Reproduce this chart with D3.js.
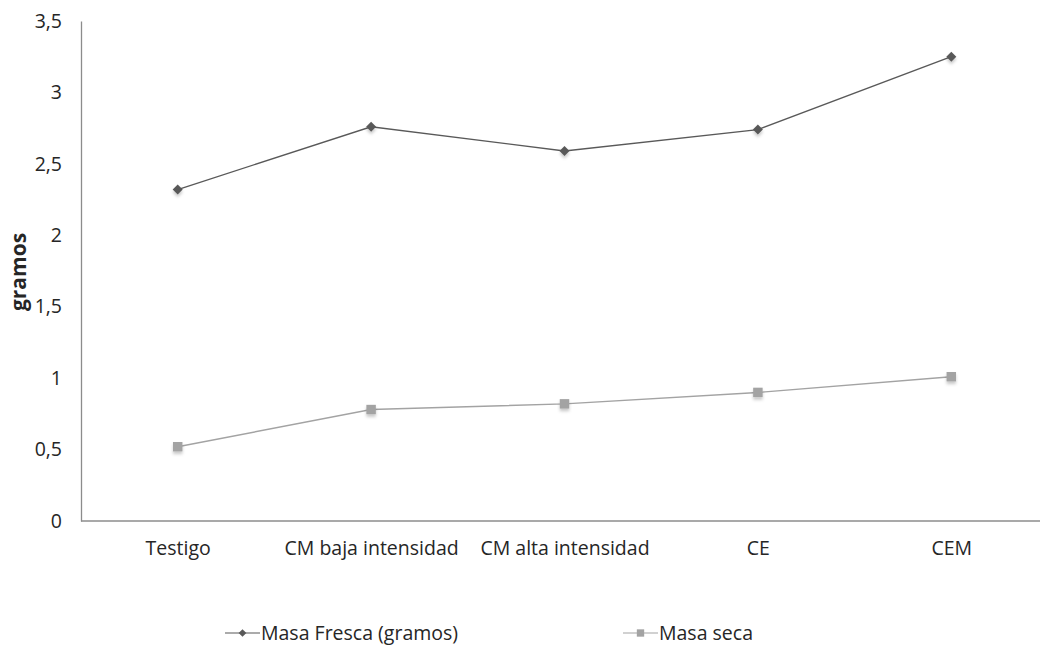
<!DOCTYPE html>
<html>
<head>
<meta charset="utf-8">
<script src="https://cdn.jsdelivr.net/npm/d3@7"></script>
<style>
  html, body { margin: 0; padding: 0; background: #fff; }
  svg { display: block; }
  text { font-family: "Open Sans", "Noto Sans", sans-serif; fill: #262626; }
</style>
</head>
<body>
<svg id="chart" width="1040" height="645"></svg>
<script>
// Treatments on the x axis
const categories = ["Testigo", "CM baja intensidad", "CM alta intensidad", "CE", "CEM"];
// Fresh mass (g) per treatment
const masaFresca = [2.32, 2.76, 2.59, 2.74, 3.25];
// Dry mass (g) per treatment
const masaSeca = [0.52, 0.78, 0.82, 0.90, 1.01];
// Y axis ticks and their labels
const yTicks = [0, 0.5, 1, 1.5, 2, 2.5, 3, 3.5];
const yTickLabels = ["0", "0,5", "1", "1,5", "2", "2,5", "3", "3,5"];
const seriesNames = ["Masa Fresca (gramos)", "Masa seca"];

const svg = d3.select("#chart");
const plotLeft = 81, plotRight = 1048, plotTop = 21, plotBottom = 521;

const x = d3.scalePoint().domain(categories).range([plotLeft, plotRight]).padding(0.5);
const y = d3.scaleLinear().domain([0, 3.5]).range([plotBottom, plotTop]);

// soft drop shadow under markers
const defs = svg.append("defs");
const f = defs.append("filter").attr("id", "shadow")
  .attr("x", "-100%").attr("y", "-100%").attr("width", "300%").attr("height", "300%");
f.append("feDropShadow").attr("dx", 0).attr("dy", 2.5).attr("stdDeviation", 1.6)
  .attr("flood-color", "#000").attr("flood-opacity", 0.22);

// Y axis
const yAxis = d3.axisLeft(y).tickValues(yTicks)
  .tickFormat((d, i) => yTickLabels[i]).tickSize(0).tickPadding(19);
const gy = svg.append("g").attr("transform", `translate(${plotLeft},0)`).call(yAxis);
gy.select(".domain").attr("stroke", "#8c8c8c").attr("stroke-width", 1.3);
gy.selectAll("text").style("font-size", "19.5px").attr("fill", "#262626")
  .style("font-family", "'Open Sans', sans-serif");

// X axis
const xAxis = d3.axisBottom(x).tickSize(0).tickPadding(20);
const gx = svg.append("g").attr("transform", `translate(0,${plotBottom})`).call(xAxis);
gx.select(".domain").attr("d", `M${plotLeft},0H1040`).attr("stroke", "#8c8c8c").attr("stroke-width", 1.3);
gx.selectAll("text").style("font-size", "19.5px").attr("fill", "#262626")
  .style("font-family", "'Open Sans', sans-serif");

// Y axis title
svg.append("text")
  .attr("transform", `translate(26,272) rotate(-90)`)
  .attr("text-anchor", "middle")
  .style("font-size", "21px").style("font-weight", "bold")
  .text("gramos");

// diamond = square rotated 45°
const diamondSym = { draw(ctx, size) { const r = Math.sqrt(size) / 2 * Math.SQRT2;
  ctx.moveTo(0, -r); ctx.lineTo(r, 0); ctx.lineTo(0, r); ctx.lineTo(-r, 0); ctx.closePath(); } };

const series = [
  { name: seriesNames[0], values: masaFresca, color: "#595959", lineW: 1.4, shape: diamondSym, size: 50 },
  { name: seriesNames[1], values: masaSeca, color: "#a3a3a3", lineW: 1.4, shape: d3.symbolSquare, size: 90 }
];

const line = d3.line().x((d, i) => x(categories[i])).y(d => y(d));

series.forEach(s => {
  svg.append("path").datum(s.values)
    .attr("d", line).attr("fill", "none")
    .attr("stroke", s.color).attr("stroke-width", s.lineW);
  svg.append("g").selectAll("path").data(s.values).join("path")
    .attr("transform", (d, i) => `translate(${x(categories[i])},${y(d)})`)
    .attr("d", d3.symbol().type(s.shape).size(s.size))
    .attr("fill", s.color)
    .attr("filter", "url(#shadow)");
});

// Legend
const legendItems = [
  { s: series[0], lx: 225, tx: 261 },
  { s: series[1], lx: 623, tx: 659 }
];
const ly = 633;
legendItems.forEach(it => {
  const g = svg.append("g");
  g.append("line").attr("x1", it.lx).attr("x2", it.lx + 35)
    .attr("y1", ly).attr("y2", ly).attr("stroke", it.s.color).attr("stroke-width", 1.2);
  g.append("path").attr("transform", `translate(${it.lx + 17.5},${ly})`)
    .attr("d", d3.symbol().type(it.s.shape).size(it.s.size * 0.6)).attr("fill", it.s.color);
  g.append("text").attr("x", it.tx).attr("y", ly).attr("dy", "0.35em")
    .style("font-size", "19.5px").text(it.s.name);
});
</script>
</body>
</html>
